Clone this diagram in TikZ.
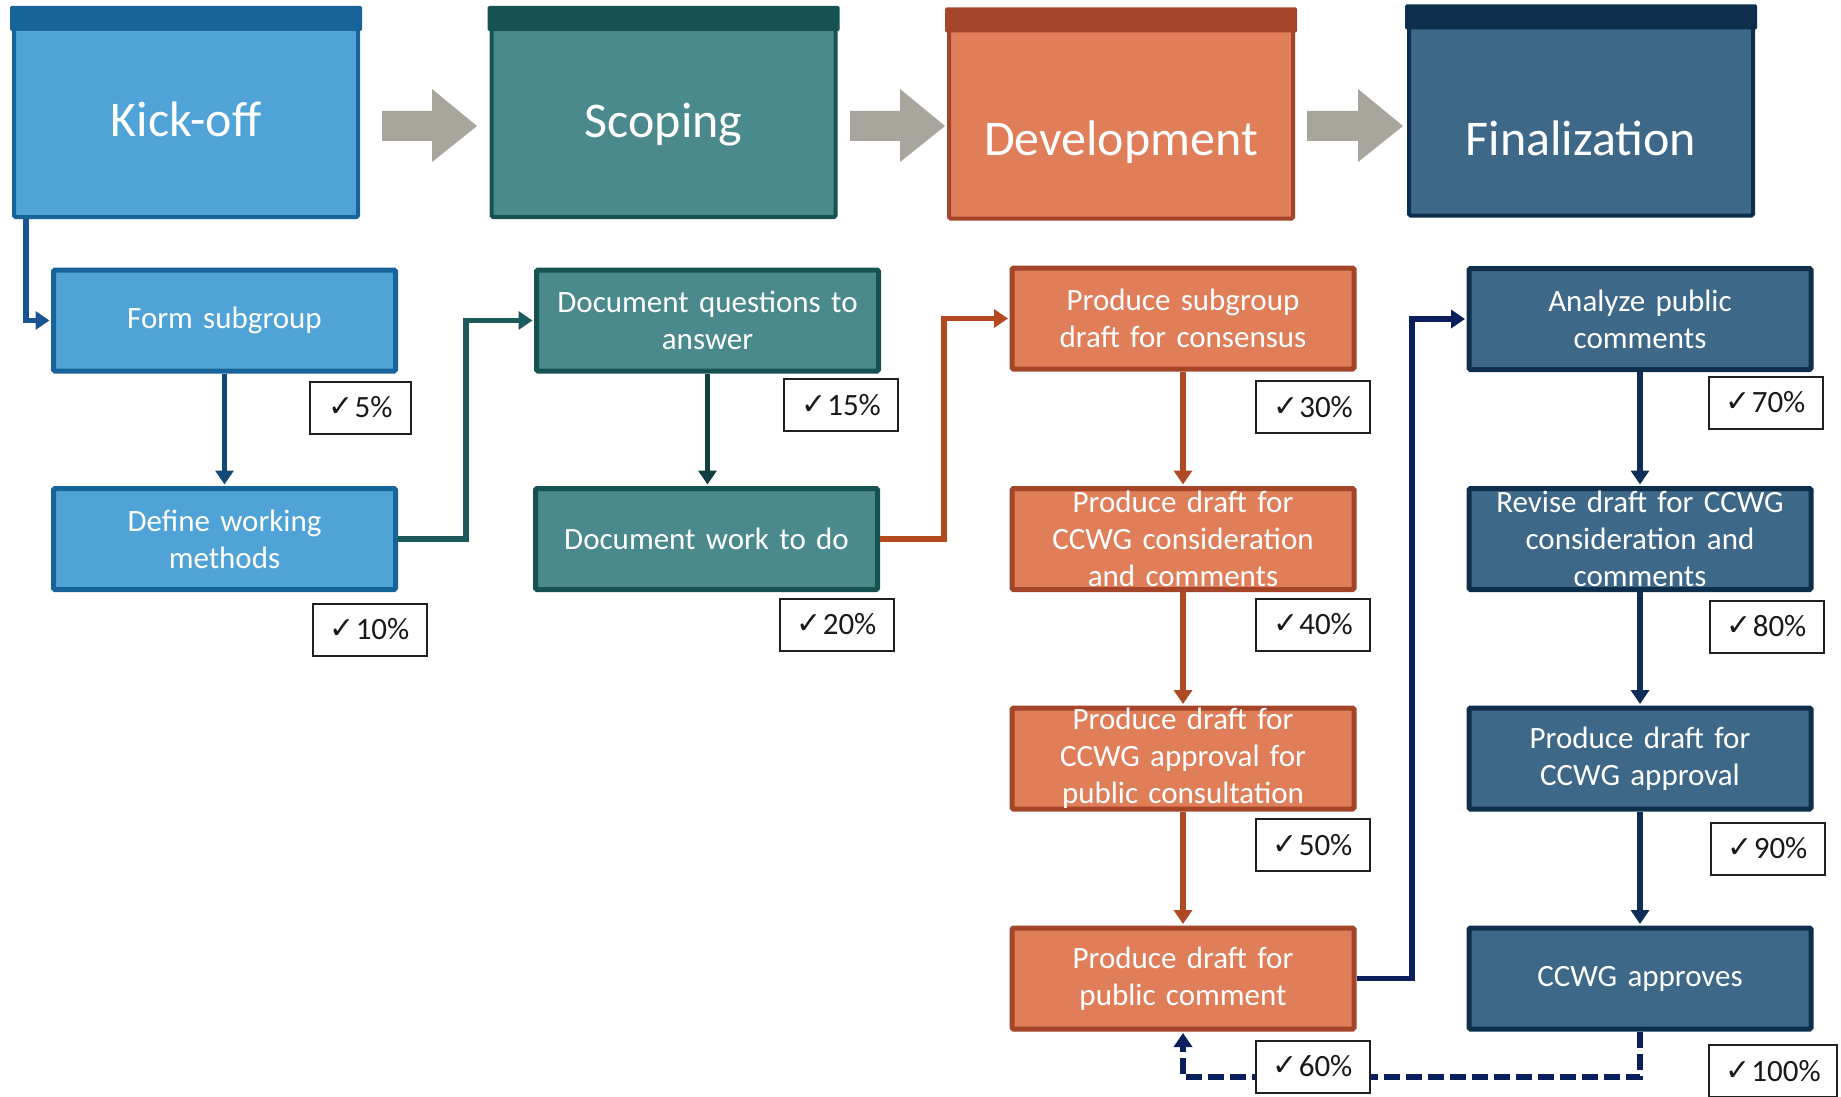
\documentclass[tikz,border=0pt]{standalone}
\usepackage{fontspec}
\setmainfont{Carlito}
\newfontfamily\djv{DejaVu Sans}
\usetikzlibrary{arrows.meta}
\definecolor{kfill}{HTML}{4FA3D7}
\definecolor{kdark}{HTML}{17649A}
\definecolor{sfill}{HTML}{4A8A8C}
\definecolor{sdark}{HTML}{175252}
\definecolor{dfill}{HTML}{E07E5A}
\definecolor{ddark}{HTML}{A4452A}
\definecolor{ffill}{HTML}{3E6888}
\definecolor{fdark}{HTML}{0D2F4C}
\definecolor{garrow}{HTML}{A8A59D}
\definecolor{cblue}{HTML}{1A5490}
\definecolor{cblue2}{HTML}{114B75}
\definecolor{cteal}{HTML}{1D5A5B}
\definecolor{cteal2}{HTML}{123E40}
\definecolor{crust}{HTML}{B4481E}
\definecolor{crust2}{HTML}{AE4A24}
\definecolor{cnavy}{HTML}{0B1F5C}
\definecolor{cnavy2}{HTML}{0E2D57}
\newcommand\mychk[1]{{\djv\fontsize{30}{30}\selectfont\raisebox{1pt}{✓}}\hspace{1pt}#1\%}
\begin{document}
\begin{tikzpicture}[x=1pt,y=-1pt,
  phase/.style={draw, line width=4pt, minimum width=344pt, minimum height=207pt, inner sep=0pt, rounded corners=1.5pt},
  phasetext/.style={text=white, font=\fontsize{50}{60}\selectfont, anchor=base, inner sep=0pt},
  stepbox/.style={draw, line width=5pt, minimum width=342pt, minimum height=101pt, text width=334pt, align=center, text=white, font=\fontsize{31}{37}\selectfont, inner sep=0pt, rounded corners=1.5pt},
  checkbox/.style={draw=black!88, line width=2pt, fill=white, minimum width=114pt, minimum height=52pt, inner sep=0pt, font=\fontsize{31}{37}\selectfont, text=black!90},
  conn/.style={line width=5.5pt, shorten >=1.5pt, -{Triangle[length=14pt,width=18pt]}},
  blockarrow/.style={fill=garrow}
]
\useasboundingbox (0,0) rectangle (1841,1097);

% phase boxes
\node[phase, fill=kfill, draw=kdark] (kick) at (186,113.5) {};
\node[phase, fill=sfill, draw=sdark] (scop) at (663.5,113.5) {};
\node[phase, fill=dfill, draw=ddark] (devp) at (1121,115) {};
\node[phase, fill=ffill, draw=fdark] (finl) at (1581,112) {};
\foreach \n/\c in {kick/kdark, scop/sdark, devp/ddark, finl/fdark}{
  \fill[\c, rounded corners=1.5pt] ([xshift=-2pt,yshift=2pt]\n.north west) rectangle ([xshift=2pt,yshift=-23pt]\n.north east);
}
\node[phasetext] (kicklbl) at (186,137) {Kick-off};
\node[phasetext] (scoplbl) at (663.5,138) {Scoping};
\node[phasetext] (devplbl) at (1121,156) {Development};
\node[phasetext] (finllbl) at (1581,155) {Finalization};

% block arrows
\fill[blockarrow] (382,111) -- (432,111) -- (432,89) -- (477,126) -- (432,162) -- (432,141) -- (382,141) -- cycle;
\fill[blockarrow] (850,111) -- (900,111) -- (900,89) -- (945,126) -- (900,162) -- (900,141) -- (850,141) -- cycle;
\fill[blockarrow] (1307,111) -- (1358,111) -- (1358,89) -- (1403,126) -- (1358,162) -- (1358,141) -- (1307,141) -- cycle;

% step boxes
\node[stepbox, fill=kfill, draw=kdark] (form) at (224.5,320.5) {Form subgroup};
\node[stepbox, fill=kfill, draw=kdark] (defn) at (224.5,539) {Define working\\methods};
\node[stepbox, fill=sfill, draw=sdark] (docq) at (707.5,320.5) {Document questions to\\answer};
\node[stepbox, fill=sfill, draw=sdark] (docw) at (706.5,539) {Document work to do};
\node[stepbox, fill=dfill, draw=ddark] (prsub) at (1183,318.5) {Produce subgroup\\draft for consensus};
\node[stepbox, fill=dfill, draw=ddark] (prcons) at (1183,539) {Produce draft for\\CCWG consideration\\and comments};
\node[stepbox, fill=dfill, draw=ddark] (prappr) at (1183,758.5) {Produce draft for\\CCWG approval for\\public consultation};
\node[stepbox, fill=dfill, draw=ddark] (prpub) at (1183,978.5) {Produce draft for\\public comment};
\node[stepbox, fill=ffill, draw=fdark] (anal) at (1640,319) {Analyze public\\comments};
\node[stepbox, fill=ffill, draw=fdark] (revs) at (1640,539) {Revise draft for CCWG\\consideration and\\comments};
\node[stepbox, fill=ffill, draw=fdark] (fappr) at (1640,758.5) {Produce draft for\\CCWG approval};
\node[stepbox, fill=ffill, draw=fdark] (apprv) at (1640,978.5) {CCWG approves};

% connector bends
\coordinate (j1) at (466,430);
\coordinate (j2) at (944,430);
\coordinate (j3) at (1412,600);
\coordinate (jd) at (1400,1077);

% connectors
\draw[conn, cblue] ([xshift=14pt]kick.south west) |- (form.west);
\draw[conn, cblue2] (form.south) -- (defn.north);
\draw[conn, cteal] (defn.east) -| (j1) |- (docq.west);
\draw[conn, cteal2] (docq.south) -- (docw.north -| docq.south);
\draw[conn, crust] (docw.east) -| (j2) |- (prsub.west);
\draw[conn, crust2] (prsub.south) -- (prcons.north);
\draw[conn, crust2] (prcons.south) -- (prappr.north);
\draw[conn, crust2] (prappr.south) -- (prpub.north);
\draw[conn, cnavy] (prpub.east) -| (j3) |- (anal.west);
\draw[conn, cnavy2] (anal.south) -- (revs.north);
\draw[conn, cnavy2] (revs.south) -- (fappr.north);
\draw[conn, cnavy2] (fappr.south) -- (apprv.north);
\draw[conn, cnavy, dash pattern=on 16pt off 6pt] (apprv.south) -- (apprv.south |- jd) -| (prpub.south);

% check boxes
\node[checkbox, minimum width=101pt] (c5) at (360.5,407.5) {\mychk{5}};
\node[checkbox] (c10) at (369.5,629.5) {\mychk{10}};
\node[checkbox] (c15) at (841,405) {\mychk{15}};
\node[checkbox] (c20) at (836.5,624.5) {\mychk{20}};
\node[checkbox] (c30) at (1313,407) {\mychk{30}};
\node[checkbox] (c40) at (1313,624.5) {\mychk{40}};
\node[checkbox] (c50) at (1312.5,845) {\mychk{50}};
\node[checkbox] (c60) at (1312.5,1066.5) {\mychk{60}};
\node[checkbox] (c70) at (1765.5,402.5) {\mychk{70}};
\node[checkbox] (c80) at (1766.5,626.5) {\mychk{80}};
\node[checkbox] (c90) at (1767.5,848.5) {\mychk{90}};
\node[checkbox, minimum width=128pt] (c100) at (1773,1071) {\mychk{100}};
\end{tikzpicture}
\end{document}
